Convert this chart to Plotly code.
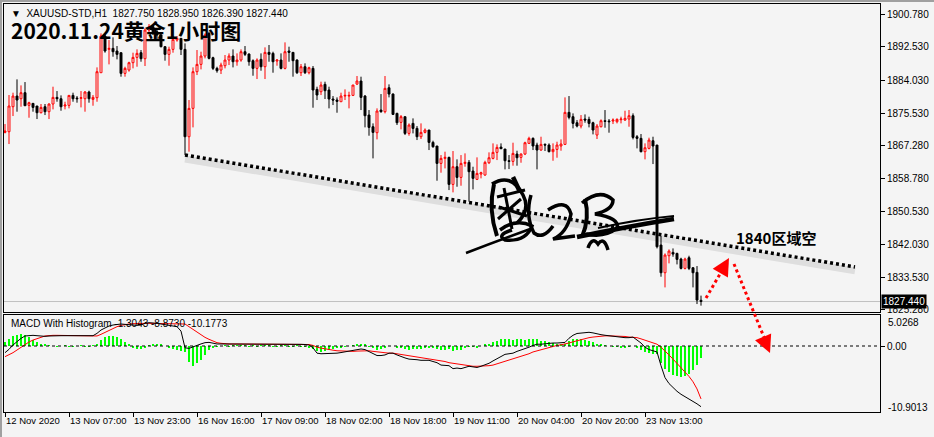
import plotly.graph_objects as go

W, H = 934, 437
BG = "#f4f4f4"

opens = [1870.69,1870.86,1877.25,1879.98,1879.30,1880.84,1877.60,1878.11,1877.43,1875.72,
1877.25,1875.98,1877.94,1879.64,1879.30,1877.43,1877.60,1880.15,1879.47,1879.39,
1879.30,1881.01,1879.13,1879.56,1885.95,1895.33,1891.92,1892.17,1891.49,1891.07,
1885.78,1886.63,1888.51,1889.87,1891.07,1889.53,1896.86,1897.72,1896.44,1895.58,
1892.60,1890.64,1891.92,1894.30,1894.73,1891.92,1869.58,1876.83,1886.21,1888.08,
1890.21,1896.01,1889.79,1887.06,1886.63,1887.74,1889.19,1890.21,1888.76,1889.19,
1891.32,1890.72,1889.02,1887.06,1889.36,1887.48,1891.15,1890.89,1888.93,1889.19,
1887.06,1891.49,1891.15,1889.19,1885.95,1887.48,1885.95,1887.06,1881.69,1881.09,
1882.97,1881.52,1879.22,1878.96,1878.53,1879.98,1879.98,1880.15,1883.05,1883.82,
1879.98,1875.12,1872.14,1870.61,1876.40,1875.98,1882.11,1880.49,1875.55,1873.25,
1874.70,1870.43,1872.99,1871.71,1869.58,1870.69,1871.29,1868.13,1867.20,1862.76,
1864.04,1864.30,1857.39,1861.91,1859.18,1862.76,1863.02,1860.80,1858.67,1860.03,
1859.78,1862.93,1864.04,1865.58,1866.94,1866.43,1863.44,1863.27,1865.15,1864.30,
1865.15,1867.88,1869.16,1867.45,1866.17,1867.62,1867.45,1865.75,1866.34,1867.20,
1867.62,1875.81,1874.70,1873.16,1872.31,1874.10,1874.02,1873.16,1870.01,1872.14,
1873.67,1873.59,1873.59,1873.42,1873.93,1873.84,1874.10,1874.95,1869.58,1869.16,
1865.75,1866.60,1868.56,1867.45,1841.88,1834.80,1839.15,1840.00,1839.74,1838.30,
1835.91,1838.64,1836.08,1834.89,1827.75]

highs = [1872.82,1880.24,1880.84,1884.25,1882.71,1883.56,1878.53,1878.11,1877.43,1877.94,
1877.94,1878.11,1882.37,1881.26,1880.15,1878.53,1880.15,1880.84,1879.98,1881.26,
1881.26,1881.35,1880.24,1887.31,1896.01,1896.01,1894.30,1894.99,1892.77,1891.07,
1887.48,1888.76,1891.07,1891.92,1891.75,1897.29,1898.40,1898.14,1897.29,1896.18,
1892.77,1892.60,1894.99,1895.33,1894.73,1893.45,1878.96,1887.31,1891.75,1891.32,
1896.01,1896.44,1890.04,1887.48,1888.51,1890.47,1890.89,1891.92,1890.89,1891.92,
1892.77,1890.89,1889.36,1889.62,1890.89,1892.43,1893.03,1891.32,1889.36,1890.89,
1893.71,1892.60,1891.15,1889.36,1888.17,1888.34,1887.48,1887.66,1882.37,1883.65,
1883.65,1882.37,1879.98,1879.64,1880.84,1881.69,1881.09,1882.80,1885.10,1884.93,
1880.24,1876.40,1872.99,1876.83,1880.49,1885.10,1882.97,1880.66,1875.72,1875.12,
1874.70,1872.99,1874.27,1872.31,1872.99,1871.71,1871.29,1868.56,1867.20,1864.89,
1865.75,1864.47,1865.92,1863.79,1864.89,1865.32,1863.61,1861.91,1864.30,1860.63,
1863.44,1865.58,1867.88,1867.62,1867.88,1866.43,1864.89,1868.05,1866.00,1865.32,
1868.30,1869.58,1869.41,1868.05,1869.58,1867.88,1867.88,1867.88,1868.30,1868.90,
1879.64,1879.98,1875.55,1873.84,1875.12,1875.29,1874.70,1873.42,1872.82,1874.02,
1876.40,1874.10,1874.27,1874.27,1874.70,1876.23,1876.40,1875.55,1870.01,1870.27,
1867.88,1869.33,1869.58,1867.45,1844.18,1839.74,1840.77,1841.02,1839.92,1838.64,
1838.64,1839.15,1836.16,1836.51,1828.95]

lows = [1870.43,1867.71,1874.87,1875.98,1877.25,1877.51,1874.44,1875.98,1874.10,1875.55,
1875.12,1874.10,1876.57,1878.53,1876.23,1876.57,1876.83,1878.53,1878.28,1877.08,
1875.98,1878.28,1877.51,1878.53,1885.95,1891.07,1888.08,1890.04,1889.36,1884.93,
1884.93,1886.21,1887.06,1887.48,1888.76,1887.66,1896.01,1895.58,1894.48,1892.43,
1889.02,1887.74,1891.07,1893.88,1890.47,1864.89,1865.75,1871.97,1885.35,1886.80,
1889.62,1889.36,1886.63,1885.95,1885.61,1887.06,1887.91,1887.31,1887.74,1888.76,
1890.21,1887.74,1885.18,1884.33,1886.46,1884.33,1888.76,1885.95,1887.74,1886.80,
1886.80,1888.76,1884.93,1885.61,1885.10,1885.61,1885.52,1877.00,1878.96,1880.24,
1879.22,1876.83,1877.68,1875.72,1878.53,1878.96,1876.83,1879.98,1882.80,1876.40,
1871.97,1869.84,1864.04,1868.90,1875.72,1875.55,1879.64,1875.12,1872.57,1871.46,
1870.01,1869.84,1870.43,1868.73,1868.99,1870.43,1866.17,1866.77,1858.33,1860.38,
1861.48,1855.94,1855.35,1856.79,1857.05,1861.91,1852.96,1856.11,1858.50,1858.93,
1859.61,1862.59,1863.79,1863.61,1866.43,1861.23,1861.31,1862.17,1862.17,1862.93,
1864.89,1867.71,1866.17,1861.23,1866.00,1865.92,1865.58,1863.44,1864.21,1866.00,
1867.45,1874.02,1871.71,1871.97,1871.71,1873.16,1871.97,1870.18,1868.99,1871.97,
1871.88,1870.61,1872.82,1872.99,1872.99,1873.67,1872.14,1868.90,1866.60,1865.58,
1863.79,1866.34,1862.59,1841.02,1833.78,1831.05,1837.19,1838.89,1836.93,1835.65,
1835.65,1835.48,1831.05,1826.79,1826.39]

closes = [1871.03,1877.43,1879.98,1878.96,1880.84,1877.51,1878.28,1877.08,1875.72,1877.08,
1875.98,1877.94,1879.64,1879.30,1877.25,1877.68,1880.15,1879.30,1879.30,1879.56,
1881.01,1879.30,1879.64,1886.21,1895.33,1891.49,1892.17,1891.32,1890.64,1885.78,
1887.06,1888.51,1889.87,1890.89,1889.53,1896.86,1897.72,1896.44,1895.58,1892.60,
1890.64,1891.92,1894.48,1894.73,1891.92,1869.58,1876.83,1886.21,1888.08,1890.21,
1895.58,1889.62,1887.06,1886.46,1887.91,1889.19,1890.21,1888.76,1889.19,1891.32,
1890.64,1888.76,1887.06,1889.19,1887.48,1891.15,1890.64,1888.76,1889.19,1887.06,
1891.32,1891.15,1889.02,1885.95,1887.48,1885.95,1887.23,1881.52,1880.24,1882.80,
1881.35,1879.22,1878.96,1878.62,1879.98,1880.15,1880.15,1882.80,1883.82,1879.64,
1874.95,1871.97,1870.69,1876.15,1875.98,1881.94,1880.49,1875.29,1873.16,1874.70,
1870.43,1872.57,1871.71,1869.58,1870.69,1871.29,1868.13,1867.02,1862.76,1864.04,
1864.30,1857.39,1861.91,1859.18,1862.76,1863.02,1860.63,1858.93,1860.20,1860.38,
1863.02,1864.21,1865.58,1866.85,1866.51,1863.44,1863.27,1865.32,1864.21,1865.15,
1868.05,1869.16,1867.20,1866.17,1867.62,1867.45,1865.75,1866.34,1867.45,1867.71,
1875.81,1874.53,1872.99,1872.31,1874.02,1873.84,1872.99,1871.29,1872.31,1873.67,
1873.50,1873.42,1873.84,1874.02,1874.10,1874.27,1874.95,1869.41,1869.16,1865.75,
1866.77,1868.73,1867.20,1841.45,1834.80,1839.32,1840.34,1839.57,1838.21,1835.91,
1838.30,1835.91,1834.80,1827.81,1827.44]

macd_line = [-1.12,-0.56,0.17,0.73,1.28,1.68,1.79,1.79,1.73,1.62,
1.62,1.68,1.73,1.73,1.73,1.73,1.73,1.73,1.73,1.73,
1.73,1.73,1.73,2.12,2.68,3.02,3.35,3.52,3.63,3.69,
3.63,3.58,3.46,3.46,3.52,3.80,3.91,3.91,3.80,3.69,
3.58,3.46,3.35,3.24,2.50,-0.30,-0.40,-0.20,0.10,0.35,
0.56,0.61,0.45,0.34,0.34,0.34,0.30,0.30,0.34,0.39,
0.39,0.39,0.34,0.34,0.34,0.34,0.39,0.39,0.34,0.34,
0.34,0.30,0.30,0.28,0.28,0.25,0.17,-0.30,-1.20,-1.30,
-1.30,-1.20,-1.20,-1.20,-1.10,-1.00,-0.90,-0.80,-0.60,-0.50,
-0.60,-0.90,-1.30,-1.60,-1.60,-1.50,-1.20,-1.20,-1.50,-1.80,
-2.00,-2.20,-2.20,-2.30,-2.40,-2.40,-2.40,-2.60,-2.80,-3.20,
-3.30,-3.30,-3.80,-3.70,-3.80,-3.60,-3.40,-3.50,-3.60,-3.40,
-3.20,-2.90,-2.50,-2.10,-1.70,-1.40,-1.30,-1.20,-0.90,-0.70,
-0.50,-0.20,0.10,0.30,0.30,0.40,0.50,0.50,0.50,0.60,
0.60,1.30,1.80,2.10,2.20,2.30,2.30,2.20,2.00,1.90,
1.80,1.70,1.60,1.50,1.40,1.40,1.40,1.50,1.00,0.50,
-0.20,-0.60,-0.80,-1.00,-3.30,-5.30,-6.30,-7.00,-7.60,-8.10,
-8.50,-8.80,-9.20,-9.70,-10.1773]

signal_line = [-1.79,-1.51,-1.12,-0.67,-0.22,0.28,0.67,1.00,1.28,1.45,
1.68,1.79,1.79,1.79,1.79,1.79,1.79,1.79,1.79,1.79,
1.79,1.79,1.79,1.68,1.96,2.29,2.68,3.02,3.24,3.46,
3.63,3.69,3.74,3.80,3.80,3.80,3.80,3.80,3.80,3.80,
3.80,3.80,3.80,3.80,3.80,3.69,3.24,2.79,2.29,1.84,
1.45,1.12,0.78,0.56,0.45,0.34,0.34,0.34,0.34,0.34,
0.34,0.34,0.34,0.34,0.34,0.34,0.34,0.34,0.34,0.34,
0.34,0.34,0.34,0.34,0.34,0.34,0.25,0.10,-0.20,-0.35,
-0.50,-0.60,-0.70,-0.80,-0.85,-0.90,-0.90,-0.90,-0.85,-0.80,
-0.80,-0.80,-0.90,-1.00,-1.10,-1.20,-1.20,-1.20,-1.30,-1.40,
-1.50,-1.60,-1.70,-1.80,-1.90,-2.00,-2.10,-2.20,-2.30,-2.50,
-2.60,-2.80,-2.90,-3.10,-3.20,-3.30,-3.30,-3.40,-3.40,-3.40,
-3.40,-3.30,-3.20,-3.00,-2.80,-2.60,-2.40,-2.20,-2.00,-1.80,
-1.50,-1.30,-1.00,-0.80,-0.60,-0.40,-0.20,0.00,0.10,0.20,
0.30,0.50,0.70,0.90,1.10,1.30,1.40,1.50,1.60,1.60,
1.70,1.70,1.70,1.60,1.60,1.60,1.50,1.50,1.40,1.20,
1.00,0.80,0.60,0.30,-0.20,-0.80,-1.50,-2.20,-2.90,-3.60,
-4.30,-5.10,-6.00,-7.20,-8.873]

macd_hist = [0.67,1.20,1.60,1.90,2.00,1.90,1.50,1.06,0.67,0.40,
0.17,0.05,0.00,-0.05,0.00,0.05,-0.10,-0.10,0.00,0.05,
-0.05,-0.05,0.10,0.30,1.00,1.45,1.70,1.70,1.45,1.10,
0.60,0.17,-0.30,-0.50,-0.50,-0.30,0.10,0.20,0.30,0.20,
0.00,-0.40,-0.55,-0.70,-0.80,-1.00,-2.60,-3.30,-2.90,-2.30,
-1.50,-0.70,-0.30,-0.10,0.00,0.05,-0.05,0.10,0.05,0.10,
0.10,-0.05,0.05,-0.10,0.05,0.10,0.10,-0.05,-0.10,0.05,
0.05,-0.10,-0.05,0.05,-0.10,-0.15,-0.30,-0.50,-0.80,-0.95,
-0.80,-0.60,-0.50,-0.40,-0.25,-0.10,0.00,0.10,0.25,0.30,
0.20,-0.10,-0.40,-0.60,-0.50,-0.30,0.00,0.00,-0.20,-0.40,
-0.50,-0.60,-0.50,-0.50,-0.50,-0.40,-0.30,-0.40,-0.50,-0.70,
-0.70,-0.50,-0.90,-0.60,-0.60,-0.30,-0.10,-0.10,-0.20,0.00,
0.20,0.40,0.70,0.90,1.10,1.20,1.10,1.00,1.10,1.10,
1.00,1.10,1.10,1.10,0.90,0.80,0.70,0.50,0.40,0.40,
0.30,0.80,1.10,1.20,1.10,1.00,0.90,0.70,0.40,0.30,
0.10,0.00,-0.10,-0.10,-0.20,-0.20,-0.10,0.00,-0.40,-0.70,
-1.00,-1.20,-1.30,-1.40,-2.80,-3.80,-4.40,-4.80,-5.00,-5.20,
-5.10,-4.70,-4.10,-3.20,-2.00]

tick_idx = [0, 16, 32, 48, 64, 80, 96, 112, 128, 144, 160]
tick_text = ["12 Nov 2020", "13 Nov 07:00", "13 Nov 23:00", "16 Nov 16:00", "17 Nov 09:00",
             "18 Nov 02:00", "18 Nov 18:00", "19 Nov 11:00", "20 Nov 04:00", "20 Nov 20:00",
             "23 Nov 13:00"]
price_ticks = [1900.78, 1892.53, 1884.03, 1875.53, 1867.28, 1858.78, 1850.53, 1842.03, 1833.53, 1825.28]

bid = 1827.44
trend_x = [45, 212.5]
trend_y = [lows[45], 1836.27]

n = len(opens)
idx = list(range(n))

FONT = "Liberation Sans"

fig = go.Figure()

fig.add_trace(go.Scatter(x=trend_x, y=[v - 1.0 for v in trend_y], mode="lines",
                         line=dict(color="rgba(0,0,0,0.09)", width=7),
                         hoverinfo="skip", showlegend=False, xaxis="x", yaxis="y"))

fig.add_trace(go.Candlestick(
    x=idx, open=opens, high=highs, low=lows, close=closes,
    increasing=dict(line=dict(color="#ff0000", width=1), fillcolor=BG),
    decreasing=dict(line=dict(color="#000000", width=1), fillcolor="#000000"),
    whiskerwidth=0, hoverinfo="skip", showlegend=False, xaxis="x", yaxis="y"))

fig.add_trace(go.Scatter(x=trend_x, y=trend_y, mode="lines",
                         line=dict(color="#000000", width=3.5, dash="3px,3px"),
                         hoverinfo="skip", showlegend=False, xaxis="x", yaxis="y"))

fig.add_trace(go.Bar(x=idx, y=macd_hist, marker=dict(color="#00ff00", line=dict(width=0)),
                     width=0.7, hoverinfo="skip", showlegend=False, xaxis="x2", yaxis="y2"))
fig.add_trace(go.Scatter(x=idx, y=signal_line, mode="lines", line=dict(color="#ff0000", width=1),
                         hoverinfo="skip", showlegend=False, xaxis="x2", yaxis="y2"))
fig.add_trace(go.Scatter(x=idx, y=macd_line, mode="lines", line=dict(color="#000000", width=1),
                         hoverinfo="skip", showlegend=False, xaxis="x2", yaxis="y2"))

def px_x(p):
    return p / W

def px_y(p):
    return 1 - p / H

def path(cmds):
    out = []
    for c, pts in cmds:
        out.append(c + " " + " ".join(f"{px_x(x):.5f},{px_y(y):.5f}" for x, y in pts))
    return " ".join(out)

xr = [-0.25, 218.75]
main_dom = [px_y(312), px_y(4)]
macd_dom = [px_y(412), px_y(315)]
xdom = [px_x(4), px_x(880)]

axis_common = dict(showgrid=False, zeroline=False, showline=True, mirror=True,
                   linecolor="#000000", linewidth=1)

fig.update_layout(
    width=W, height=H, autosize=False,
    margin=dict(l=0, r=0, t=0, b=0),
    paper_bgcolor=BG, plot_bgcolor=BG,
    font=dict(family=FONT, size=10, color="#000000"),
    bargap=0, showlegend=False, hovermode=False,
    xaxis=dict(domain=xdom, range=xr, anchor="y", showticklabels=False, ticks="",
               rangeslider=dict(visible=False), **axis_common),
    yaxis=dict(domain=main_dom, range=[1824.76, 1903.52], side="right", anchor="x",
               tickvals=price_ticks, ticktext=[f"{v:.3f}" for v in price_ticks],
               ticks="outside", ticklen=4, tickcolor="#000000", automargin=False,
               tickfont=dict(family=FONT, size=10), **axis_common),
    xaxis2=dict(domain=xdom, range=xr, anchor="y2", tickvals=tick_idx, ticktext=tick_text,
                ticks="outside", ticklen=4, tickcolor="#000000", ticklabelposition="outside right",
                tickangle=0, automargin=False,
                tickfont=dict(family=FONT, size=9.5), **axis_common),
    yaxis2=dict(domain=macd_dom, range=[-11.07, 5.20], side="right", anchor="x2",
                tickvals=[0], ticktext=["0.00"], ticks="outside", ticklen=4, tickcolor="#000000",
                automargin=False, tickfont=dict(family=FONT, size=10), **axis_common),
)

shapes = []
shapes.append(dict(type="line", xref="x", yref="y", x0=xr[0], x1=xr[1], y0=bid, y1=bid,
                   line=dict(color="#c0c0c0", width=1), layer="below"))
shapes.append(dict(type="line", xref="x2", yref="y2", x0=xr[0], x1=xr[1], y0=0, y1=0,
                   line=dict(color="#000000", width=1, dash="3px,3px")))
shapes.append(dict(type="line", xref="paper", yref="paper", x0=px_x(706), y0=px_y(298),
                   x1=px_x(727), y1=px_y(262), line=dict(color="#ff0000", width=3, dash="dot")))
shapes.append(dict(type="line", xref="paper", yref="paper", x0=px_x(734), y0=px_y(264),
                   x1=px_x(768), y1=px_y(347), line=dict(color="#ff0000", width=3, dash="dot")))
shapes.append(dict(type="rect", xref="paper", yref="paper", x0=0, x1=1, y0=px_y(2), y1=1,
                   line=dict(width=0), fillcolor="#a0a0a0"))
shapes.append(dict(type="rect", xref="paper", yref="paper", x0=0, x1=px_x(2), y0=0, y1=1,
                   line=dict(width=0), fillcolor="#a0a0a0"))

# handwritten signature (decorative strokes)
sig_strokes = [
    ([("M", [(494, 184)]), ("Q", [(488, 210), (497, 236)])], 4),
    ([("M", [(492, 184)]), ("Q", [(511, 172), (523, 195)]), ("Q", [(531, 210), (517, 223)])], 3.5),
    ([("M", [(497, 197)]), ("L", [(525, 190)])], 3),
    ([("M", [(499, 207)]), ("L", [(527, 216)])], 3),
    ([("M", [(504, 188)]), ("L", [(512, 229)])], 3),
    ([("M", [(498, 219)]), ("L", [(521, 199)])], 3),
    ([("M", [(513, 177)]), ("L", [(520, 192)])], 4.5),
    ([("M", [(500, 230)]), ("Q", [(516, 218), (532, 226)]), ("Q", [(526, 242), (505, 240)]),
      ("Q", [(496, 235), (512, 230)])], 3.5),
    ([("M", [(466, 253)]), ("Q", [(500, 240), (533, 228)])], 2.5),
    ([("M", [(531, 195)]), ("Q", [(525, 216), (534, 233)]), ("Q", [(543, 240), (553, 226)])], 3.5),
    ([("M", [(548, 210)]), ("Q", [(567, 198), (571, 214)]), ("Q", [(567, 233), (553, 239)]),
      ("L", [(575, 236)])], 3.5),
    ([("M", [(585, 199)]), ("Q", [(590, 218), (582, 237)])], 4),
    ([("M", [(582, 203)]), ("Q", [(600, 188), (613, 200)]), ("Q", [(613, 210), (595, 214)]),
      ("Q", [(620, 218), (617, 228)]), ("Q", [(605, 238), (586, 234)])], 3.5),
    ([("M", [(588, 248)]), ("Q", [(592, 236), (598, 244)]), ("Q", [(604, 236), (608, 250)])], 3.5),
    ([("M", [(577, 237)]), ("Q", [(630, 226), (674, 219)])], 4.5),
    ([("M", [(598, 228)]), ("Q", [(640, 219), (674, 216)])], 2),
]
for cmds, w in sig_strokes:
    shapes.append(dict(type="path", xref="paper", yref="paper", path=path(cmds),
                       line=dict(color="#000000", width=w)))
fig.update_layout(shapes=shapes)

ann = []
ann.append(dict(xref="paper", yref="paper", x=px_x(9), y=px_y(13), xanchor="left", yanchor="middle",
                text="▼  XAUUSD-STD,H1  1827.750 1828.950 1826.390 1827.440", showarrow=False,
                font=dict(family=FONT, size=10, color="#000000")))
ann.append(dict(xref="paper", yref="paper", x=px_x(9), y=px_y(30), xanchor="left", yanchor="middle",
                text="<b>2020.11.24黄金1小时图</b>", showarrow=False,
                font=dict(family="Noto Sans CJK SC", size=21, color="#000000")))
ann.append(dict(xref="paper", yref="paper", x=px_x(9), y=px_y(323), xanchor="left", yanchor="middle",
                text="MACD With Histogram -1.3043 -8.8730 -10.1773", showarrow=False,
                font=dict(family=FONT, size=10, color="#000000")))
ann.append(dict(xref="paper", yref="paper", x=px_x(776), y=px_y(237), xanchor="center", yanchor="middle",
                text="<b>1840区域空</b>", showarrow=False,
                font=dict(family="Noto Sans CJK SC", size=15, color="#000000")))
ann.append(dict(xref="paper", yref="y", x=px_x(881), y=bid, xanchor="left", yanchor="middle",
                text="1827.440", showarrow=False, bgcolor="#000000", borderpad=1,
                font=dict(family=FONT, size=10, color="#ffffff")))
ann.append(dict(xref="paper", yref="paper", x=px_x(886), y=px_y(322), xanchor="left", yanchor="middle",
                text="5.0268", showarrow=False, font=dict(family=FONT, size=10, color="#000000")))
ann.append(dict(xref="paper", yref="paper", x=px_x(886), y=px_y(407), xanchor="left", yanchor="middle",
                text="-10.9013", showarrow=False, font=dict(family=FONT, size=10, color="#000000")))
ann.append(dict(xref="paper", yref="paper", x=px_x(729), y=px_y(258), ax=-4, ay=7, text="",
                showarrow=True, arrowhead=2, arrowsize=1.4, arrowwidth=2.5, arrowcolor="#ff0000"))
ann.append(dict(xref="paper", yref="paper", x=px_x(770), y=px_y(353), ax=-3, ay=-7, text="",
                showarrow=True, arrowhead=2, arrowsize=1.4, arrowwidth=2.5, arrowcolor="#ff0000"))
fig.update_layout(annotations=ann)

fig.write_html("out.html", config={"displayModeBar": False},
               post_script="document.body.style.margin='0';document.body.style.padding='0';")
